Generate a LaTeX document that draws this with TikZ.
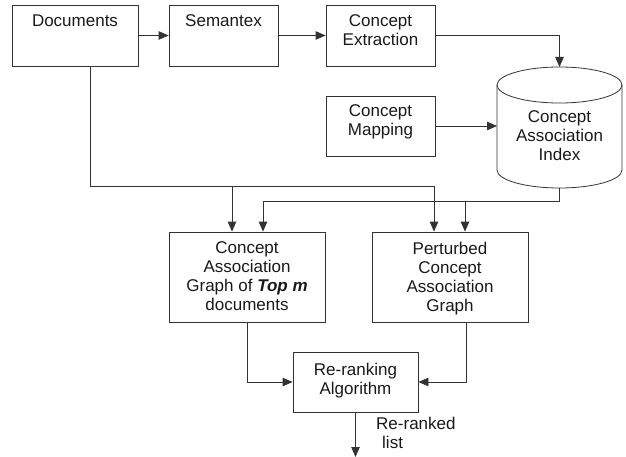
\documentclass[tikz,border=0pt]{standalone}
\usepackage{fontspec}
\setmainfont{Liberation Sans}
\usetikzlibrary{arrows.meta,calc}
\begin{document}
\begin{tikzpicture}[x=1pt,y=-1pt,
  box/.style={draw=black!80, line width=0.8pt, rectangle, inner sep=0pt},
  txt/.style={align=center, inner sep=0pt, font=\fontsize{17}{19}\selectfont, text=black!90},
  arr/.style={draw=black!80, line width=0.8pt, -{Triangle[length=10pt,width=8.5pt]}},
  ln/.style={draw=black!80, line width=0.8pt}]
\useasboundingbox (0,0) rectangle (626,457);
% boxes
\node[box, minimum width=126pt, minimum height=61pt] (doc) at (75,35.5) {};
\node[box, minimum width=109pt, minimum height=61pt] (sem) at (223.5,35.5) {};
\node[box, minimum width=109pt, minimum height=61pt] (ce) at (380.5,35.5) {};
\node[box, minimum width=109pt, minimum height=60pt] (cm) at (380.5,126) {};
\node[box, minimum width=156pt, minimum height=90pt] (cag) at (247,277) {};
\node[box, minimum width=156pt, minimum height=90pt] (pcg) at (450,277) {};
\node[box, minimum width=125pt, minimum height=60pt] (rr) at (355.5,382) {};
% cylinder
\draw[ln] (559.5,85) ellipse [x radius=62.5pt, y radius=18pt];
\draw[ln] (497,85) -- (497,170) .. controls (497,179.94) and (525,188) .. (559.5,188)
  .. controls (594,188) and (622,179.94) .. (622,170) -- (622,85);
\coordinate (cyltop) at (559.5,67);
\coordinate (cylleft) at (497,126);
\coordinate (cylbot) at (559.5,188);
% texts
\node[txt, anchor=base] (doct) at (75,27) {Documents};
\node[txt, anchor=base] (semt) at (223.5,27) {Semantex};
\node[txt] (cet) at (380.5,30.5) {Concept\\Extraction};
\node[txt] (cmt) at (380.5,122.2) {Concept\\Mapping};
\node[txt] (cylt) at (559.5,135.5) {Concept\\Association\\Index};
\node[txt] (cagt) at (247,276.4) {Concept\\Association\\Graph of \textbf{\textit{Top m}}\\documents};
\node[txt] (pcgt) at (450,278.2) {Perturbed\\Concept\\Association\\Graph};
\node[txt] (rrt) at (355.5,380.2) {Re-ranking\\Algorithm};
\node[txt, align=left, anchor=west] (outt) at (376,433.4) {Re-ranked\\\hspace*{6pt}list};
% coordinates
\coordinate (xd) at (90,0);
\coordinate (ya) at (0,186);
\coordinate (yb) at (0,201);
\coordinate (x1) at (232,0);
\coordinate (x2) at (263,0);
\coordinate (x3) at (434,0);
\coordinate (x4) at (465,0);
\coordinate (x5) at (247,0);
\coordinate (x6) at (466,0);
\coordinate (out) at (355.5,457);
% connectors
\draw[arr] (doc) -- (sem);
\draw[arr] (sem) -- (ce);
\draw[arr] (ce.east) -| (cyltop);
\draw[arr] (cm.east) -- (cylleft);
\draw[arr] (doc.south -| xd) |- (ya -| x3) -- (pcg.north -| x3);
\draw[arr] (ya -| x1) -- (cag.north -| x1);
\draw[arr] (cylbot) |- (yb -| x2) -- (cag.north -| x2);
\draw[arr] (yb -| x4) -- (pcg.north -| x4);
\draw[arr] (cag.south -| x5) |- (rr.west);
\draw[arr] (pcg.south -| x6) |- (rr.east);
\draw[arr] (rr.south) -- (out);
\end{tikzpicture}
\end{document}
